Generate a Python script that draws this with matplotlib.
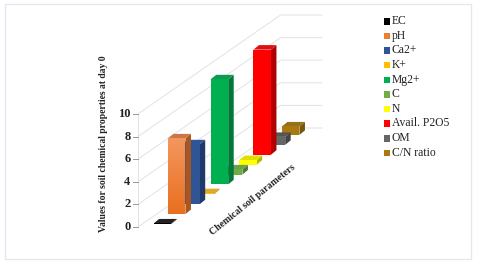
import numpy as np
from matplotlib import pyplot as plt
from matplotlib.patches import Polygon, Rectangle

params = ['EC', 'pH', 'Ca2+', 'K+', 'Mg2+', 'C', 'N', 'Avail. P2O5', 'OM', 'C/N ratio']
values = [0.05, 6.7, 5.3, 0.1, 9.3, 0.45, 0.4, 9.3, 0.7, 0.75]
colors = ['#000000', '#ED7D31', '#2F5597', '#FFC000', '#00B050',
          '#70AD47', '#FFFF00', '#FF0000', '#666666', '#A9780F']
side_colors = ['#000000', '#A9561F', '#1F3A68', '#B58A10', '#007A38',
               '#4E7A32', '#B5B500', '#B00000', '#444444', '#77550A']
top_colors = ['#222222', '#C9774A', '#2F5597', '#E0A92A', '#0E9A50',
              '#6FA050', '#E0E000', '#E01010', '#555555', '#94701C']
y_ticks = [0, 2, 4, 6, 8, 10]
y_title = 'Values for soil chemical properties at day 0'
x_title = 'Chemical soil parameters'

serif = 'Liberation Serif'
grid_color = '#E2E2E2'

# oblique projection of the fake 3d chart, in pixels
ORIGIN = (153.7, 224.0)
CAT_STEP = (14.25, -9.9)
UNIT = 11.3
BAR_W = 17.5
DEPTH = (5.5, -4.5)
AXIS_X, AXIS_Y = 138.0, 227.0


def front(i, v):
    x = ORIGIN[0] + CAT_STEP[0] * i
    y = ORIGIN[1] + CAT_STEP[1] * i
    return x, y, y - v * UNIT


def draw_bar(ax, i, v):
    x, y0, y1 = front(i, v)
    x2 = x + BAR_W
    dx, dy = DEPTH
    top = [(x, y1), (x2, y1), (x2 + dx, y1 + dy), (x + dx, y1 + dy)]
    side = [(x2, y0), (x2 + dx, y0 + dy), (x2 + dx, y1 + dy), (x2, y1)]
    face = [(x, y0), (x2, y0), (x2, y1), (x, y1)]
    ax.add_patch(Polygon(side, fc=side_colors[i], ec='none', zorder=3 + (10 - i)))
    ax.add_patch(Polygon(top, fc=top_colors[i], ec='none', zorder=3 + (10 - i)))
    p = Polygon(face, fc=colors[i], ec='none', zorder=3 + (10 - i))
    ax.add_patch(p)
    if params[i] == 'pH':
        # orange bar has a visible gradient
        g = np.linspace(0, 1, 64).reshape(-1, 1)
        im = ax.imshow(g, extent=(x, x2, y0, y1), aspect='auto', zorder=3 + (10 - i) + 0.5,
                       cmap=plt.matplotlib.colors.LinearSegmentedColormap.from_list('o', ['#F4965E', '#E96F1E']),
                       origin='upper')
        im.set_clip_path(p)


fig = plt.figure(figsize=(4.8, 2.64), dpi=100)
ax = fig.add_axes([0, 0, 1, 1])
ax.set_xlim(0, 480)
ax.set_ylim(264, 0)
ax.axis('off')

# outer frame
ax.add_patch(Rectangle((4.5, 3.5), 466, 255.5, fc='white', ec='#E4E8F0', lw=1.0, zorder=0))

# walls
corner_dx = CAT_STEP[0] * 10
corner_dy = CAT_STEP[1] * 10
for t in y_ticks:
    yy = AXIS_Y - t * UNIT
    ax.plot([AXIS_X, AXIS_X + corner_dx, 322], [yy, yy + corner_dy, yy + corner_dy],
            color=grid_color, lw=0.7, zorder=1)
    ax.plot([133, AXIS_X], [yy, yy], color='#999999', lw=0.7, zorder=2)
    ax.text(130.5, yy, str(t), family=serif, weight='bold', fontsize=9, color='#222222',
            ha='right', va='center')
ax.plot([AXIS_X, AXIS_X], [AXIS_Y, AXIS_Y - 10 * UNIT], color=grid_color, lw=0.7, zorder=1)

for i, v in enumerate(values):
    draw_bar(ax, i, v)

ax.set_xlim(0, 480)
ax.set_ylim(264, 0)

ax.text(103, 144, y_title, family=serif, weight='bold', fontsize=6.9, color='#222222',
        rotation=90, ha='center', va='center')
ax.text(253, 200, x_title, family=serif, weight='bold', fontsize=7.0, color='#222222',
        rotation=39, ha='center', va='center', rotation_mode='anchor')

# legend
for i, name in enumerate(params):
    yy = 21 + 14.63 * i
    ax.add_patch(Rectangle((383.5, yy - 3), 6.5, 6.5, fc=colors[i], ec='none'))
    ax.text(392, yy, name, family=serif, fontsize=8.4, color='#222222', ha='left', va='center')

fig.savefig('out.png', dpi=100)
